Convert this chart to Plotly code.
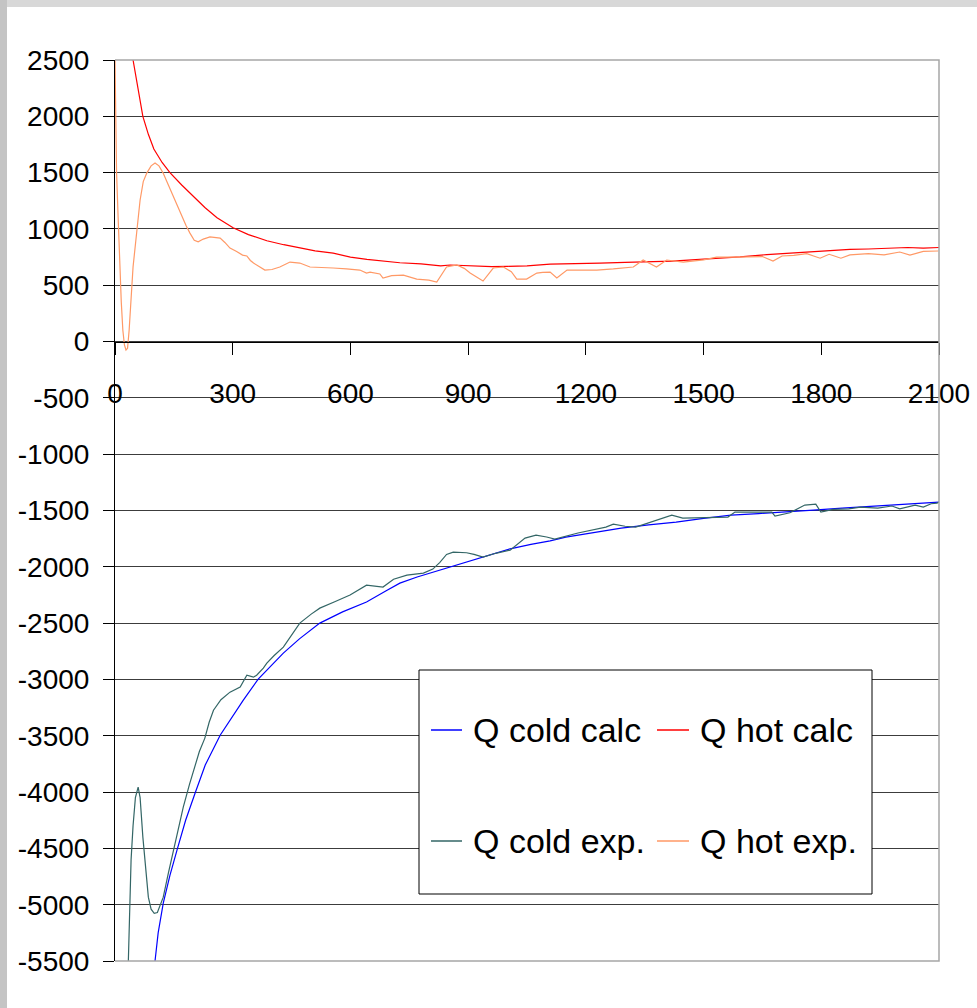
import plotly.graph_objects as go

# ---------------- data ----------------
series_names = ["Q cold calc", "Q hot calc", "Q cold exp.", "Q hot exp."]
series_colors = ["#0000ff", "#ff0000", "#336666", "#ff9966"]

x_ticks = [0, 300, 600, 900, 1200, 1500, 1800, 2100]
x_tick_labels = ["0", "300", "600", "900", "1200", "1500", "1800", "2100"]
y_ticks = [2500, 2000, 1500, 1000, 500, 0, -500, -1000, -1500, -2000, -2500,
           -3000, -3500, -4000, -4500, -5000, -5500]
y_tick_labels = ["2500", "2000", "1500", "1000", "500", "0", "-500", "-1000",
                 "-1500", "-2000", "-2500", "-3000", "-3500", "-4000", "-4500",
                 "-5000", "-5500"]

hot_calc_x = [46, 55, 63, 71, 85, 99, 120, 140, 170, 199, 229, 260, 301, 340,
              387, 430, 471, 510, 556, 600, 642, 690, 726, 780, 830, 854, 900,
              960, 1000, 1050, 1109, 1170, 1236, 1300, 1363, 1420, 1480, 1540,
              1593, 1661, 1720, 1763, 1830, 1873, 1920, 1970, 2020, 2060, 2100]
hot_calc_y = [2500, 2320, 2150, 2000, 1840, 1710, 1590, 1500, 1390, 1295, 1190,
              1100, 1010, 950, 895, 860, 830, 805, 785, 750, 730, 710, 700, 690,
              672, 680, 675, 665, 668, 672, 688, 690, 697, 703, 706, 715, 728,
              740, 752, 772, 785, 795, 808, 818, 822, 828, 835, 830, 835]

hot_exp_x = [0, 2, 4, 8, 12, 16, 20, 24, 28, 32, 36, 40, 46, 55, 64, 72, 81,
             92, 102, 112, 123, 136, 149, 160, 170, 181, 191, 202, 212, 225,
             242, 255, 268, 280, 293, 310, 325, 336, 345, 353, 365, 382, 400,
             420, 446, 471, 497, 530, 556, 590, 624, 641, 650, 675, 683, 705,
             735, 769, 800, 820, 845, 871, 890, 905, 938, 964, 990, 1010, 1024,
             1049, 1075, 1090, 1109, 1126, 1152, 1190, 1228, 1270, 1321, 1346,
             1380, 1406, 1448, 1500, 1533, 1576, 1611, 1650, 1677, 1700, 1730,
             1763, 1797, 1820, 1850, 1873, 1920, 1960, 2000, 2026, 2060, 2098]
hot_exp_y = [2500, 1900, 1500, 1100, 700, 350, 100, -30, -75, -60, 100, 350,
             662, 960, 1257, 1420, 1496, 1560, 1585, 1560, 1495, 1390, 1285,
             1190, 1110, 1030, 963, 900, 885, 910, 930, 925, 918, 880, 830,
             800, 768, 760, 720, 697, 670, 635, 640, 662, 706, 697, 662, 660,
             653, 645, 635, 608, 617, 600, 564, 585, 590, 555, 545, 529, 662,
             680, 650, 608, 537, 653, 662, 620, 555, 555, 608, 615, 617, 564,
             635, 635, 635, 645, 662, 724, 662, 724, 706, 725, 750, 750, 750,
             755, 715, 760, 765, 780, 740, 775, 740, 770, 780, 770, 795, 768,
             800, 804]

cold_calc_x = [102, 110, 123, 140, 158, 180, 204, 230, 268, 300, 327, 365, 400,
               429, 470, 522, 580, 641, 690, 726, 770, 811, 867, 938, 1007,
               1060, 1109, 1149, 1220, 1290, 1360, 1430, 1500, 1570, 1640, 1710,
               1780, 1853, 1920, 1993, 2050, 2100]
cold_calc_y = [-5500, -5250, -4987, -4740, -4516, -4250, -4010, -3760, -3495,
               -3320, -3184, -2997, -2870, -2766, -2640, -2500, -2400, -2313,
               -2215, -2145, -2090, -2047, -1985, -1914, -1840, -1800, -1770,
               -1736, -1695, -1656, -1628, -1603, -1570, -1541, -1527, -1514,
               -1497, -1479, -1465, -1452, -1438, -1425]

cold_exp_x = [34, 37, 41, 46, 52, 59, 64, 71, 78, 85, 92, 100, 108, 116, 123,
              136, 149, 160, 174, 190, 204, 215, 229, 240, 251, 270, 293, 319,
              336, 353, 361, 378, 387, 405, 429, 450, 471, 500, 522, 560, 599,
              641, 660, 683, 710, 744, 786, 810, 828, 845, 862, 896, 915, 938,
              970, 1007, 1045, 1073, 1100, 1121, 1180, 1230, 1251, 1270, 1300,
              1327, 1360, 1391, 1419, 1447, 1500, 1562, 1580, 1640, 1674, 1682,
              1720, 1758, 1786, 1799, 1830, 1870, 1900, 1944, 1980, 2000, 2039,
              2060, 2080, 2095, 2100]
cold_exp_y = [-5500, -5000, -4600, -4300, -4050, -3956, -4050, -4400, -4700,
              -4933, -5040, -5076, -5070, -5000, -4933, -4720, -4516, -4330,
              -4134, -3930, -3779, -3640, -3521, -3380, -3273, -3180, -3113,
              -3068, -2962, -2980, -2962, -2900, -2855, -2790, -2713, -2610,
              -2500, -2420, -2367, -2310, -2251, -2163, -2170, -2180, -2110,
              -2074, -2056, -2020, -1960, -1890, -1870, -1875, -1890, -1914,
              -1880, -1852, -1745, -1718, -1735, -1754, -1700, -1665, -1647,
              -1621, -1640, -1647, -1610, -1576, -1541, -1567, -1562, -1558,
              -1514, -1514, -1514, -1550, -1520, -1452, -1443, -1514, -1490,
              -1485, -1470, -1479, -1460, -1485, -1452, -1470, -1440, -1434,
              -1425]

# ---------------- figure ----------------
FONT = "Liberation Sans, Arial, sans-serif"
TICK_SIZE = 28
LEG_SIZE = 34

fig = go.Figure()
traces = [
    (cold_calc_x, cold_calc_y, 0),
    (hot_calc_x, hot_calc_y, 1),
    (cold_exp_x, cold_exp_y, 2),
    (hot_exp_x, hot_exp_y, 3),
]
for xs, ys, i in traces:
    fig.add_trace(go.Scatter(x=xs, y=ys, mode="lines", name=series_names[i],
                             line=dict(color=series_colors[i], width=1.2),
                             showlegend=False, hoverinfo="x+y+name"))

W, H = 977, 1008
L, R, T, B = 115, 38, 60, 47

fig.update_layout(
    template="none",
    width=W, height=H,
    margin=dict(l=L, r=R, t=T, b=B, pad=0, autoexpand=False),
    paper_bgcolor="white", plot_bgcolor="white",
    font=dict(family=FONT, size=TICK_SIZE, color="black"),
    showlegend=False,
    xaxis=dict(range=[0, 2100], tickvals=x_ticks, ticktext=x_tick_labels,
               showgrid=False, zeroline=False, showline=True, automargin=False,
               linecolor="black", linewidth=1, ticks="outside", ticklen=12,
               tickcolor="black", tickwidth=1, anchor="free", position=0.6875,
               ticklabelstandoff=15,
               tickfont=dict(size=TICK_SIZE, family=FONT, color="black")),
    yaxis=dict(range=[-5500, 2500], tickvals=y_ticks, ticktext=y_tick_labels,
               showgrid=True, gridcolor="#3c3c3c", gridwidth=1,
               zeroline=False, showline=True, linecolor="black", linewidth=1,
               automargin=False,
               ticks="outside", ticklen=11, tickcolor="black", tickwidth=1,
               ticklabelstandoff=8,
               tickfont=dict(size=TICK_SIZE, family=FONT, color="black")),
)

shapes = []
# plot area border (top, right, bottom) in grey
shapes.append(dict(type="path", xref="paper", yref="paper",
                   path="M 0,1 L 1,1 L 1,0 L 0,0",
                   line=dict(color="#a6a6a6", width=1.5), layer="above"))
# slide background bands
shapes.append(dict(type="rect", xref="paper", yref="paper",
                   x0=-0.2, x1=1.1, y0=(961 - 7) / 901, y1=1.1,
                   fillcolor="#d8d8d8", line=dict(width=0), layer="below"))
shapes.append(dict(type="rect", xref="paper", yref="paper",
                   x0=-0.2, x1=(7 - 115) / 824, y0=-0.1, y1=1.1,
                   fillcolor="#c4c4c4", line=dict(width=0), layer="below"))


def px_x(p):
    return (p - L) / (W - L - R)


def px_y(p):
    return (H - B - p) / (H - T - B)


# manual legend box
shapes.append(dict(type="rect", xref="paper", yref="paper",
                   x0=px_x(419), x1=px_x(872), y0=px_y(894), y1=px_y(670),
                   fillcolor="white", line=dict(color="black", width=1),
                   layer="above"))
rows = [730, 841]
cols = [(431, 462, 471), (657, 689, 698)]
annotations = []
order = [(0, 0, 0), (1, 0, 1), (2, 1, 0), (3, 1, 1)]
for idx, r, c in order:
    yy = px_y(rows[r])
    lx0, lx1, tx = cols[c]
    shapes.append(dict(type="line", xref="paper", yref="paper",
                       x0=px_x(lx0), x1=px_x(lx1), y0=yy, y1=yy,
                       line=dict(color=series_colors[idx], width=1.5),
                       layer="above"))
    annotations.append(dict(xref="paper", yref="paper", x=px_x(tx), y=yy,
                            xanchor="left", yanchor="middle",
                            text=series_names[idx], showarrow=False,
                            font=dict(family=FONT, size=LEG_SIZE, color="black")))

fig.update_layout(shapes=shapes, annotations=annotations)

fig.write_html(
    "out.html",
    config={"displayModeBar": False},
    post_script="document.body.style.margin='0px';"
                "document.body.style.padding='0px';"
                "document.body.style.overflow='hidden';",
)
